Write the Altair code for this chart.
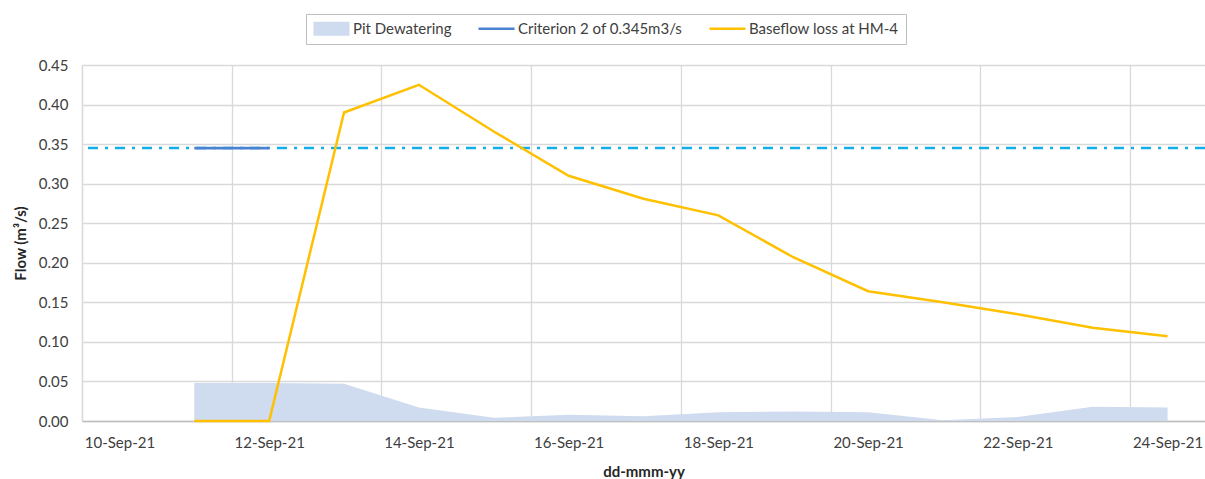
import altair as alt
import pandas as pd

# ---- data ----
days = [11, 12, 13, 14, 15, 16, 17, 18, 19, 20, 21, 22, 23, 24]
pit_dewatering = [0.048, 0.048, 0.047, 0.017, 0.004, 0.008, 0.006, 0.011, 0.012, 0.011, 0.001, 0.005, 0.018, 0.017]
baseflow_loss = [0.0, 0.0, 0.390, 0.425, 0.366, 0.310, 0.281, 0.260, 0.207, 0.164, 0.150, 0.135, 0.118, 0.107]
criterion_days = [11, 12]
criterion_values = [0.345, 0.345]
criterion_level = [0.345]

series_names = ["Pit Dewatering", "Criterion 2 of 0.345m3/s", "Baseflow loss at HM-4"]
series_colors = ["#cfdbef", "#4a82cf", "#ffc000"]

x_tick_days = [10, 12, 14, 16, 18, 20, 22, 24]
x_tick_labels = ["10-Sep-21", "12-Sep-21", "14-Sep-21", "16-Sep-21",
                 "18-Sep-21", "20-Sep-21", "22-Sep-21", "24-Sep-21"]
y_ticks = [0.0, 0.05, 0.10, 0.15, 0.20, 0.25, 0.30, 0.35, 0.40, 0.45]

# ---- layout ----
W, H = 1123, 356
DAY_PX = W / 15.0
FONT = "Lato"

main_df = pd.DataFrame({"day": days, "pit": pit_dewatering, "base": baseflow_loss})
crit_df = pd.DataFrame({"day": criterion_days, "val": criterion_values})
level_df = pd.DataFrame({"level": criterion_level})
legend_df = pd.DataFrame({"series": series_names})

x_scale = alt.Scale(domain=[9.5, 24.5], nice=False, zero=False)
y_scale = alt.Scale(domain=[0, 0.45], nice=False)

label_expr = "[" + ",".join("'%s'" % s for s in x_tick_labels) + "][indexof([" + \
    ",".join(str(d) for d in x_tick_days) + "], datum.value)]"

x_axis = alt.Axis(
    values=x_tick_days, labelExpr=label_expr,
    tickOffset=-DAY_PX / 2, labelOffset=DAY_PX / 2,
    grid=True, gridColor="#d9d9d9", gridWidth=1.3,
    ticks=False, domainColor="#bfbfbf", domainWidth=1.5,
    labelFont=FONT, labelFontSize=15, labelColor="#404040", labelPadding=14,
    labelOverlap=False, labelFlush=False,
    title="dd-mmm-yy", titleFont=FONT, titleFontSize=15, titleFontWeight="bold",
    titleColor="#262626", titlePadding=14,
)
y_axis = alt.Axis(
    values=y_ticks, format=".2f",
    grid=True, gridColor="#d9d9d9", gridWidth=1.3,
    ticks=False, domainColor="#d9d9d9", domainWidth=1.3,
    labelFont=FONT, labelFontSize=15, labelColor="#404040", labelPadding=14,
    title="Flow (m³/s)", titleFont=FONT, titleFontSize=15, titleFontWeight="bold",
    titleColor="#262626", titlePadding=10,
)

X = lambda f: alt.X(f, type="quantitative", scale=x_scale, axis=x_axis)
Y = lambda f: alt.Y(f, type="quantitative", scale=y_scale, axis=y_axis)

area = alt.Chart(main_df).mark_area(color=series_colors[0], opacity=1).encode(
    x=X("day"), y=Y("pit"))

level = alt.Chart(level_df).mark_rule(
    color="#12aeea", strokeWidth=2.5, strokeDash=[10, 7, 3, 7]).encode(y=Y("level"))

crit = alt.Chart(crit_df).mark_line(color=series_colors[1], strokeWidth=2.8).encode(
    x=X("day"), y=Y("val"))

base = alt.Chart(main_df).mark_line(color=series_colors[2], strokeWidth=2.5).encode(
    x=X("day"), y=Y("base"))

rect_path = "M-2.57,-1H2.57V1H-2.57Z"
line_path = "M-2.57,-0.19H2.57V0.19H-2.57Z"

legend_props = dict(
    title=None, orient="none", legendX=224, legendY=-51,
    direction="horizontal", columns=3, columnPadding=26,
    symbolSize=196, symbolOffset=11, labelOffset=14, symbolStrokeWidth=0,
    symbolOpacity=1, labelLimit=400,
    labelFont=FONT, labelFontSize=15, labelColor="#404040",
    padding=7, strokeColor="#bfbfbf", fillColor="white",
)

legend_layer = alt.Chart(legend_df).transform_filter("false").mark_point(
    filled=True, opacity=1, size=196).encode(
    color=alt.Color("series:N", scale=alt.Scale(domain=series_names, range=series_colors),
                    legend=alt.Legend(**legend_props)),
    shape=alt.Shape("series:N", scale=alt.Scale(domain=series_names,
                                                range=[rect_path, line_path, line_path]),
                    legend=alt.Legend(**legend_props)),
)

chart = alt.layer(area, level, crit, base, legend_layer).properties(
    width=W, height=H,
    autosize=alt.AutoSizeParams(type="none"),
    padding={"left": 82, "top": 65, "right": 0, "bottom": 58},
    background="white",
).configure_view(stroke=None)

chart.save("out.html", embed_options={"renderer": "svg", "actions": False})
